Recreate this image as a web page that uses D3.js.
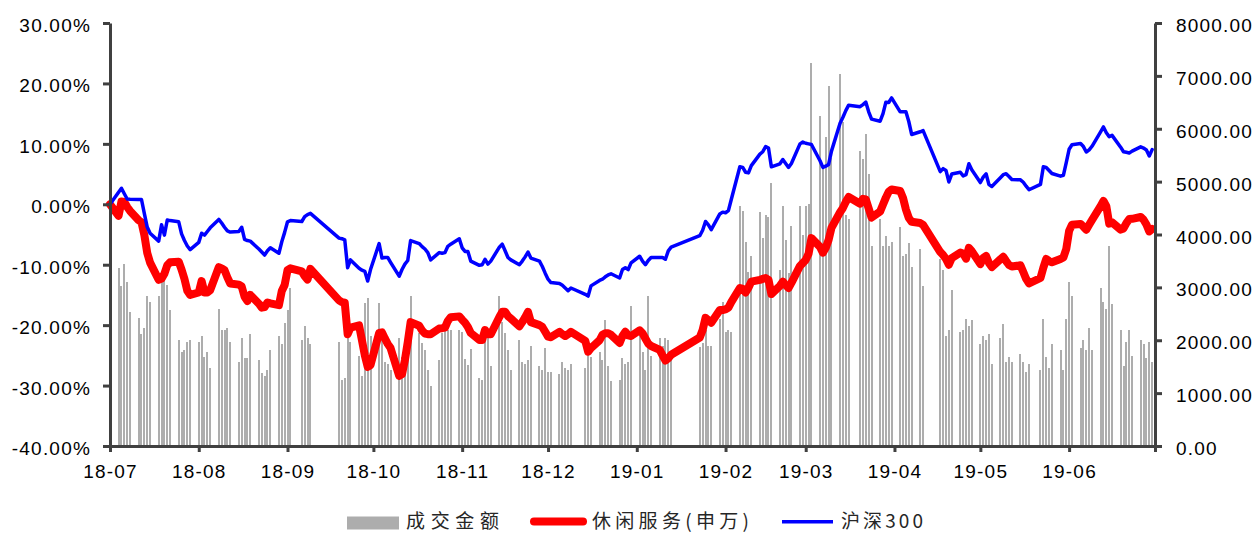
<!DOCTYPE html>
<html><head><meta charset="utf-8">
<script src="https://cdn.jsdelivr.net/npm/d3@7"></script>
<style>body{margin:0;background:#fff}svg{display:block}</style>
</head><body>
<svg id="chart" width="1256" height="533"></svg>
<script>
// ---------- data ----------
const tradeDates = [
"2018-07-20","2018-07-23","2018-07-24","2018-07-25","2018-07-26","2018-07-27","2018-07-30","2018-07-31",
"2018-08-01","2018-08-02","2018-08-03","2018-08-06","2018-08-07","2018-08-08","2018-08-09","2018-08-10","2018-08-13","2018-08-14","2018-08-15","2018-08-16","2018-08-17","2018-08-20","2018-08-21","2018-08-22","2018-08-23","2018-08-24","2018-08-27","2018-08-28","2018-08-29","2018-08-30","2018-08-31",
"2018-09-03","2018-09-04","2018-09-05","2018-09-06","2018-09-07","2018-09-10","2018-09-11","2018-09-12","2018-09-13","2018-09-14","2018-09-17","2018-09-18","2018-09-19","2018-09-20","2018-09-21","2018-09-25","2018-09-26","2018-09-27","2018-09-28",
"2018-10-08","2018-10-09","2018-10-10","2018-10-11","2018-10-12","2018-10-15","2018-10-16","2018-10-17","2018-10-18","2018-10-19","2018-10-22","2018-10-23","2018-10-24","2018-10-25","2018-10-26","2018-10-29","2018-10-30","2018-10-31",
"2018-11-01","2018-11-02","2018-11-05","2018-11-06","2018-11-07","2018-11-08","2018-11-09","2018-11-12","2018-11-13","2018-11-14","2018-11-15","2018-11-16","2018-11-19","2018-11-20","2018-11-21","2018-11-22","2018-11-23","2018-11-26","2018-11-27","2018-11-28","2018-11-29","2018-11-30",
"2018-12-03","2018-12-04","2018-12-05","2018-12-06","2018-12-07","2018-12-10","2018-12-11","2018-12-12","2018-12-13","2018-12-14","2018-12-17","2018-12-18","2018-12-19","2018-12-20","2018-12-21","2018-12-24","2018-12-25","2018-12-26","2018-12-27","2018-12-28",
"2019-01-02","2019-01-03","2019-01-04","2019-01-07","2019-01-08","2019-01-09","2019-01-10","2019-01-11","2019-01-14","2019-01-15","2019-01-16","2019-01-17","2019-01-18","2019-01-21","2019-01-22","2019-01-23","2019-01-24","2019-01-25","2019-01-28","2019-01-29","2019-01-30","2019-01-31",
"2019-02-01","2019-02-11","2019-02-12","2019-02-13","2019-02-14","2019-02-15","2019-02-18","2019-02-19","2019-02-20","2019-02-21","2019-02-22","2019-02-25","2019-02-26","2019-02-27","2019-02-28",
"2019-03-01","2019-03-04","2019-03-05","2019-03-06","2019-03-07","2019-03-08","2019-03-11","2019-03-12","2019-03-13","2019-03-14","2019-03-15","2019-03-18","2019-03-19","2019-03-20","2019-03-21","2019-03-22","2019-03-25","2019-03-26","2019-03-27","2019-03-28","2019-03-29",
"2019-04-01","2019-04-02","2019-04-03","2019-04-04","2019-04-08","2019-04-09","2019-04-10","2019-04-11","2019-04-12","2019-04-15","2019-04-16","2019-04-17","2019-04-18","2019-04-19","2019-04-22","2019-04-23","2019-04-24","2019-04-25","2019-04-26","2019-04-29","2019-04-30",
"2019-05-06","2019-05-07","2019-05-08","2019-05-09","2019-05-10","2019-05-13","2019-05-14","2019-05-15","2019-05-16","2019-05-17","2019-05-20","2019-05-21","2019-05-22","2019-05-23","2019-05-24","2019-05-27","2019-05-28","2019-05-29","2019-05-30","2019-05-31",
"2019-06-03","2019-06-04","2019-06-05","2019-06-06","2019-06-10","2019-06-11","2019-06-12","2019-06-13","2019-06-14","2019-06-17","2019-06-18","2019-06-19","2019-06-20","2019-06-21","2019-06-24","2019-06-25","2019-06-26","2019-06-27","2019-06-28",
"2019-07-01","2019-07-02","2019-07-03","2019-07-04","2019-07-05","2019-07-08","2019-07-09","2019-07-10","2019-07-11","2019-07-12","2019-07-15","2019-07-16","2019-07-17","2019-07-18","2019-07-19"
];

// 沪深300 cumulative return (%)
const hs300 = [
0,2.0,2.65,1.75,0.88,0.85,0.81,0.79,
-1.54,-3.77,-4.8,-6.1,-3.4,-5.1,-2.6,-2.7,-2.9,-4.9,-6.0,-6.9,-7.5,-6.3,-4.8,-5.1,-4.5,-3.9,-2.5,-3.1,-3.8,-4.4,-4.6,
-4.5,-3.8,-5.8,-6.0,-6.1,-7.4,-7.9,-8.4,-7.7,-7.2,-8.1,-6.2,-4.65,-2.9,-2.7,-2.85,-2.05,-1.7,-1.5,
-5.6,-5.7,-5.9,-10.5,-9.2,-10.6,-10.9,-11.1,-12.7,-10.8,-6.5,-8.9,-8.8,-8.8,-9.6,-11.9,-10.8,-9.9,
-9.3,-6.0,-6.5,-7.0,-7.4,-8.0,-9.2,-8.0,-8.1,-8.0,-6.95,-6.6,-5.7,-7.2,-7.8,-7.8,-9.4,-10.1,-10.0,-9.1,-9.9,-9.4,
-7.1,-6.6,-7.7,-8.8,-9.2,-10.0,-9.4,-8.7,-7.9,-8.9,-9.4,-10.3,-11.4,-12.4,-12.95,-13.1,-13.4,-13.85,-14.3,-13.85,
-14.9,-15.2,-13.5,-12.6,-12.4,-12.0,-11.7,-11.5,-12.2,-10.8,-10.5,-10.8,-9.7,-8.6,-9.4,-10.0,-9.3,-8.8,-8.8,-8.8,-9.1,-7.7,
-7.1,-5.2,-4.3,-2.85,-3.4,-4.2,-1.6,-1.3,-1.4,-1.05,0.8,6.2,6.1,5.3,5.2,
6.4,8.3,8.7,9.55,9.3,6.2,6.7,7.4,6.75,6.1,6.75,10.0,10.3,10.1,10.0,9.9,7.2,6.1,6.3,6.6,8.8,
13.4,14.4,15.5,16.4,16.15,16.5,16.9,15.3,14.1,13.75,15.0,16.9,16.85,17.6,15.3,15.3,15.3,13.7,11.55,12.0,12.2,
5.4,5.9,5.6,3.7,5.0,5.3,4.7,4.9,6.7,5.7,3.6,4.5,5.05,3.25,2.95,4.4,4.9,5.05,4.6,4.1,
4.05,3.65,3.0,2.4,3.3,6.2,6.1,5.6,5.1,4.65,4.8,6.9,9.1,9.85,10.05,9.55,8.65,9.0,9.6,
12.0,12.8,11.85,11.2,11.4,9.45,8.7,8.6,8.5,8.8,9.5,9.3,9.0,8.0,9.05
];

// 休闲服务(申万) cumulative return (%)
const leisure = [
0,-1.9,0.45,0.4,-0.45,-1.1,-2.65,-2.97,
-5.1,-8.05,-9.65,-12.5,-12.3,-11.5,-10.1,-9.6,-9.5,-10.8,-12.35,-14.3,-15.0,-14.6,-12.7,-14.6,-14.6,-14.2,-10.4,-10.6,-10.9,-12.1,-13.1,
-13.3,-13.6,-15.3,-16.0,-15.0,-16.45,-17.1,-17.0,-16.25,-16.4,-16.7,-14.35,-13.35,-10.9,-10.6,-11.1,-11.9,-12.45,-10.7,
-15.9,-16.2,-16.3,-21.5,-20.4,-20.05,-22.5,-25.0,-26.9,-26.6,-21.3,-21.2,-22.2,-23.1,-23.8,-28.4,-28.1,-25.8,
-22.8,-19.5,-20.1,-20.9,-21.4,-21.5,-21.5,-20.55,-20.5,-20.4,-19.3,-18.7,-18.55,-19.1,-19.6,-20.3,-21.3,-22.45,-22.45,-20.8,-21.5,-21.5,
-18.65,-17.8,-17.8,-18.5,-18.9,-20.2,-19.5,-18.7,-17.8,-19.5,-20.0,-20.3,-21.1,-21.9,-22.0,-21.1,-21.5,-21.8,-21.5,-21.1,
-22.6,-24.4,-23.8,-22.5,-21.6,-21.35,-21.35,-21.6,-22.95,-21.8,-21.1,-21.7,-21.8,-20.85,-21.35,-22.2,-23.05,-23.45,-24.1,-25.0,-25.85,-25.5,
-24.9,-22.05,-20.8,-18.8,-19.2,-19.6,-17.5,-17.5,-17.4,-17.1,-16.2,-13.85,-14.0,-14.6,-13.8,
-12.8,-12.5,-12.35,-12.2,-12.5,-14.85,-13.5,-12.8,-13.35,-13.85,-13.0,-10.2,-9.7,-9.2,-8.2,-5.6,-7.05,-8.0,-7.2,-5.9,-3.9,
-1.3,-0.6,0.4,1.2,0.1,0.9,0.8,-0.7,-2.2,-1.2,-0.05,1.1,2.1,2.45,2.2,1.05,-0.85,-2.25,-2.9,-3.1,-3.4,
-7.9,-8.4,-9.05,-10.0,-8.9,-8.0,-8.15,-9.0,-7.2,-7.75,-9.9,-8.9,-8.55,-9.7,-10.4,-9.1,-8.7,-9.4,-10.05,-10.3,
-10.1,-11.2,-12.35,-13.1,-12.2,-10.5,-9.05,-9.4,-9.6,-9.05,-8.8,-7.4,-4.4,-3.4,-3.25,-3.7,-4.2,-3.4,-2.6,
-0.3,0.55,-0.3,-3.2,-3.0,-4.2,-4.0,-3.1,-2.45,-2.4,-2.1,-2.55,-3.35,-4.5,-4.1
];

// 成交金额 (right axis)
const turnover = [
3000,3360,3025,3440,3110,2540,2415,2120,
2230,2840,2720,2840,3110,3170,3045,2570,2000,1780,1815,1970,2000,1970,2080,1690,1780,1470,2600,2190,2190,2230,1970,
1590,2040,1660,1660,2120,1630,1390,1320,1440,1815,2080,1930,2320,2570,2980,2000,2270,2040,1930,
1970,1250,1280,2040,1970,1700,1320,2700,2790,2080,2700,2080,1590,1560,1440,2040,1690,1815,
1815,2840,2130,1940,1815,1440,1140,1630,2130,2260,2190,2190,2200,2150,1650,1530,1840,1280,1250,2000,2070,1510,
2840,2350,2130,1815,1440,2000,1590,1550,1630,1890,1510,1440,1850,1400,1400,1360,1590,1470,1440,1550,
1470,1760,1690,1780,1630,2380,1510,1220,1250,1660,1550,1590,2650,2130,1780,1440,2840,1700,2050,1900,2050,2000,
1800,1870,1940,2200,1890,1890,2400,2730,2160,2190,2160,4530,4450,3860,3300,
3600,4430,3930,4370,4340,4980,3330,4540,3900,3280,4160,4540,4000,4540,4580,7240,6240,5280,5840,6810,5440,
7030,6130,4370,4300,5570,5420,5900,5140,3780,4290,3780,3970,3780,3860,4150,3600,3640,3830,3380,3720,3030,
3530,3330,2080,2190,2950,2160,2190,2410,2270,2380,1930,2080,2000,2120,1550,2040,2310,1590,1680,1590,
1740,1590,1400,1550,1440,2410,1680,1470,1930,1815,1440,2410,3110,2840,1850,2000,1815,2225,1815,
2980,2730,2600,3780,2690,2190,1510,1970,2190,1700,2000,1930,1660,1970,1590
];

const xTickLabels = ["18-07","18-08","18-09","18-10","18-11","18-12","19-01","19-02","19-03","19-04","19-05","19-06"];
const leftTicks = [-40,-30,-20,-10,0,10,20,30];
const rightTicks = [0,1000,2000,3000,4000,5000,6000,7000,8000];
const seriesNames = ["成交金额","休闲服务(申万)","沪深300"];

// ---------- chart ----------
const parse = d3.timeParse("%Y-%m-%d");
const rows = tradeDates.map((s,i)=>({date:parse(s), hs:hs300[i], le:leisure[i], vol:turnover[i]}));

const L=110, R=1155, T=23, B=446;
const axisColor="#404040";
const tickFont = "'Liberation Sans', Arial, sans-serif";

const x = d3.scaleTime().domain([new Date(2018,6,20), new Date(2019,6,20)]).range([L,R]);
const yL = d3.scaleLinear().domain([-40,30]).range([B,T]);
const yR = d3.scaleLinear().domain([0,8000]).range([B,T]);

const svg = d3.select("#chart");

// bars
svg.append("g").selectAll("rect").data(rows).join("rect")
  .attr("x", d=>x(d.date)-1).attr("width",2)
  .attr("y", d=>yR(d.vol)).attr("height", d=>yR(0)-yR(d.vol))
  .attr("fill","#adadad").attr("shape-rendering","crispEdges");

// lines
const lineLe = d3.line().x(d=>x(d.date)).y(d=>yL(d.le));
const lineHs = d3.line().x(d=>x(d.date)).y(d=>yL(d.hs));
svg.append("path").datum(rows).attr("d",lineLe)
  .attr("fill","none").attr("stroke","#ff0000").attr("stroke-width",8)
  .attr("stroke-linejoin","round").attr("stroke-linecap","round");
svg.append("path").datum(rows).attr("d",lineHs)
  .attr("fill","none").attr("stroke","#0000ff").attr("stroke-width",3.5)
  .attr("stroke-linejoin","round").attr("stroke-linecap","round");

function styleAxis(g){
  g.select(".domain").attr("stroke",axisColor).attr("stroke-width",3);
  g.selectAll(".tick line").attr("stroke",axisColor).attr("stroke-width",3);
  g.selectAll(".tick text").attr("fill","#000").attr("font-size",19)
   .attr("font-family",tickFont).style("letter-spacing","1.2px");
  g.attr("font-size",null).attr("font-family",null);
}

// left axis
const gL = svg.append("g").attr("transform",`translate(${L},0)`)
  .call(d3.axisLeft(yL).tickValues(leftTicks).tickSize(7).tickSizeOuter(0).tickPadding(12)
        .tickFormat(d=>d.toFixed(2)+"%"));
styleAxis(gL);
gL.selectAll(".tick text").attr("dy","0.45em");

// right axis
const gR = svg.append("g").attr("transform",`translate(${R},0)`)
  .call(d3.axisRight(yR).tickValues(rightTicks).tickSize(7).tickSizeOuter(0).tickPadding(14)
        .tickFormat(d=>d.toFixed(2)));
styleAxis(gR);
gR.selectAll(".tick text").attr("dy","0.45em");

// bottom axis
const xTickDates = xTickLabels.map(s=>new Date(2000 + +s.slice(0,2), +s.slice(3)-1, 20))
  .concat([x.domain()[1]]);
const gB = svg.append("g").attr("transform",`translate(0,${B})`)
  .call(d3.axisBottom(x).tickValues(xTickDates).tickSize(6).tickSizeOuter(0).tickPadding(13)
        .tickFormat((d,i)=>xTickLabels[i]||""));
styleAxis(gB);

// legend
const lg = svg.append("g").attr("font-family","'Noto Sans CJK SC','Noto Sans',sans-serif")
  .attr("font-size",19).attr("fill","#262626");
lg.append("rect").attr("x",347).attr("y",516.5).attr("width",52).attr("height",13).attr("fill","#adadad");
lg.append("text").attr("x",406).attr("y",528).attr("textLength",93).attr("lengthAdjust","spacing").text(seriesNames[0]);
lg.append("line").attr("x1",534).attr("x2",583).attr("y1",521.5).attr("y2",521.5)
  .attr("stroke","#ff0000").attr("stroke-width",8).attr("stroke-linecap","round");
lg.append("text").attr("x",592).attr("y",528).attr("textLength",157).attr("lengthAdjust","spacing").text(seriesNames[1]);
lg.append("line").attr("x1",782).attr("x2",833).attr("y1",521.7).attr("y2",521.7)
  .attr("stroke","#0000ff").attr("stroke-width",3.5);
lg.append("text").attr("x",841).attr("y",528).attr("textLength",82).attr("lengthAdjust","spacing").text(seriesNames[2]);
</script>
</body></html>
